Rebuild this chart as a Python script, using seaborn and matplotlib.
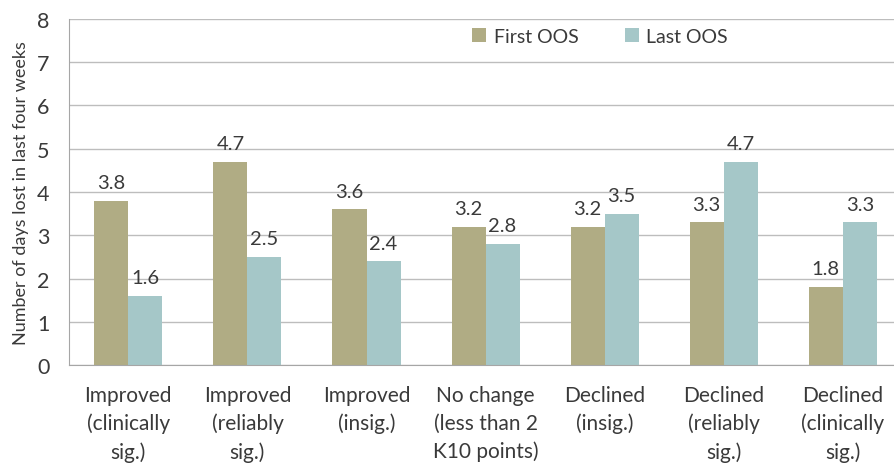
import numpy as np
import pandas as pd
import seaborn as sns
import matplotlib.pyplot as plt

categories = ['Improved\n(clinically\nsig.)', 'Improved\n(reliably\nsig.)', 'Improved\n(insig.)',
              'No change\n(less than 2\nK10 points)', 'Declined\n(insig.)',
              'Declined\n(reliably\nsig.)', 'Declined\n(clinically\nsig.)']
first_oos = [3.8, 4.7, 3.6, 3.2, 3.2, 3.3, 1.8]
last_oos = [1.6, 2.5, 2.4, 2.8, 3.5, 4.7, 3.3]
series = ['First OOS', 'Last OOS']
colors = ['#B0AC84', '#A5C7C8']

df = pd.DataFrame({
    'category': categories * 2,
    'series': [series[0]] * len(categories) + [series[1]] * len(categories),
    'value': first_oos + last_oos,
})

sns.set_style('white')
plt.rcParams['font.family'] = ['Lato', 'DejaVu Sans']
text_col = '#3a3a3a'

fig = plt.figure(figsize=(8.94, 4.64), dpi=100)
ax = fig.add_axes([0.077, 0.211, 0.923, 0.746])

sns.barplot(data=df, x='category', y='value', hue='series', palette=colors,
            width=0.572, saturation=1, ax=ax, errorbar=None, linewidth=0)

for cont in ax.containers:
    ax.bar_label(cont, fmt='%.1f', padding=7, fontsize=14.5, color=text_col)

ax.set_ylim(0, 8)
ax.set_xlim(-0.5, 6.43)
ax.set_yticks(range(0, 9))
ax.yaxis.grid(True, color='#BDBDBD', lw=1)
ax.set_axisbelow(True)
for s in ['top', 'right']:
    ax.spines[s].set_visible(False)
for s in ['left', 'bottom']:
    ax.spines[s].set_color('#A6A6A6')
ax.tick_params(axis='x', length=0, labelsize=15, colors=text_col, pad=14)
ax.tick_params(axis='y', length=0, labelsize=15.5, colors=text_col, pad=14)
for lab in ax.get_xticklabels():
    lab.set_linespacing(1.5)
ax.set_xlabel('')
ax.set_ylabel('Number of days lost in last four weeks', fontsize=13, color=text_col, labelpad=6)

ax.legend(loc='upper right', bbox_to_anchor=(0.82, 1.025), ncol=2, frameon=False,
          fontsize=14, handlelength=0.7, handleheight=0.7, columnspacing=2.4,
          handletextpad=0.4, labelcolor=text_col)

fig.savefig('out.png', dpi=100)
